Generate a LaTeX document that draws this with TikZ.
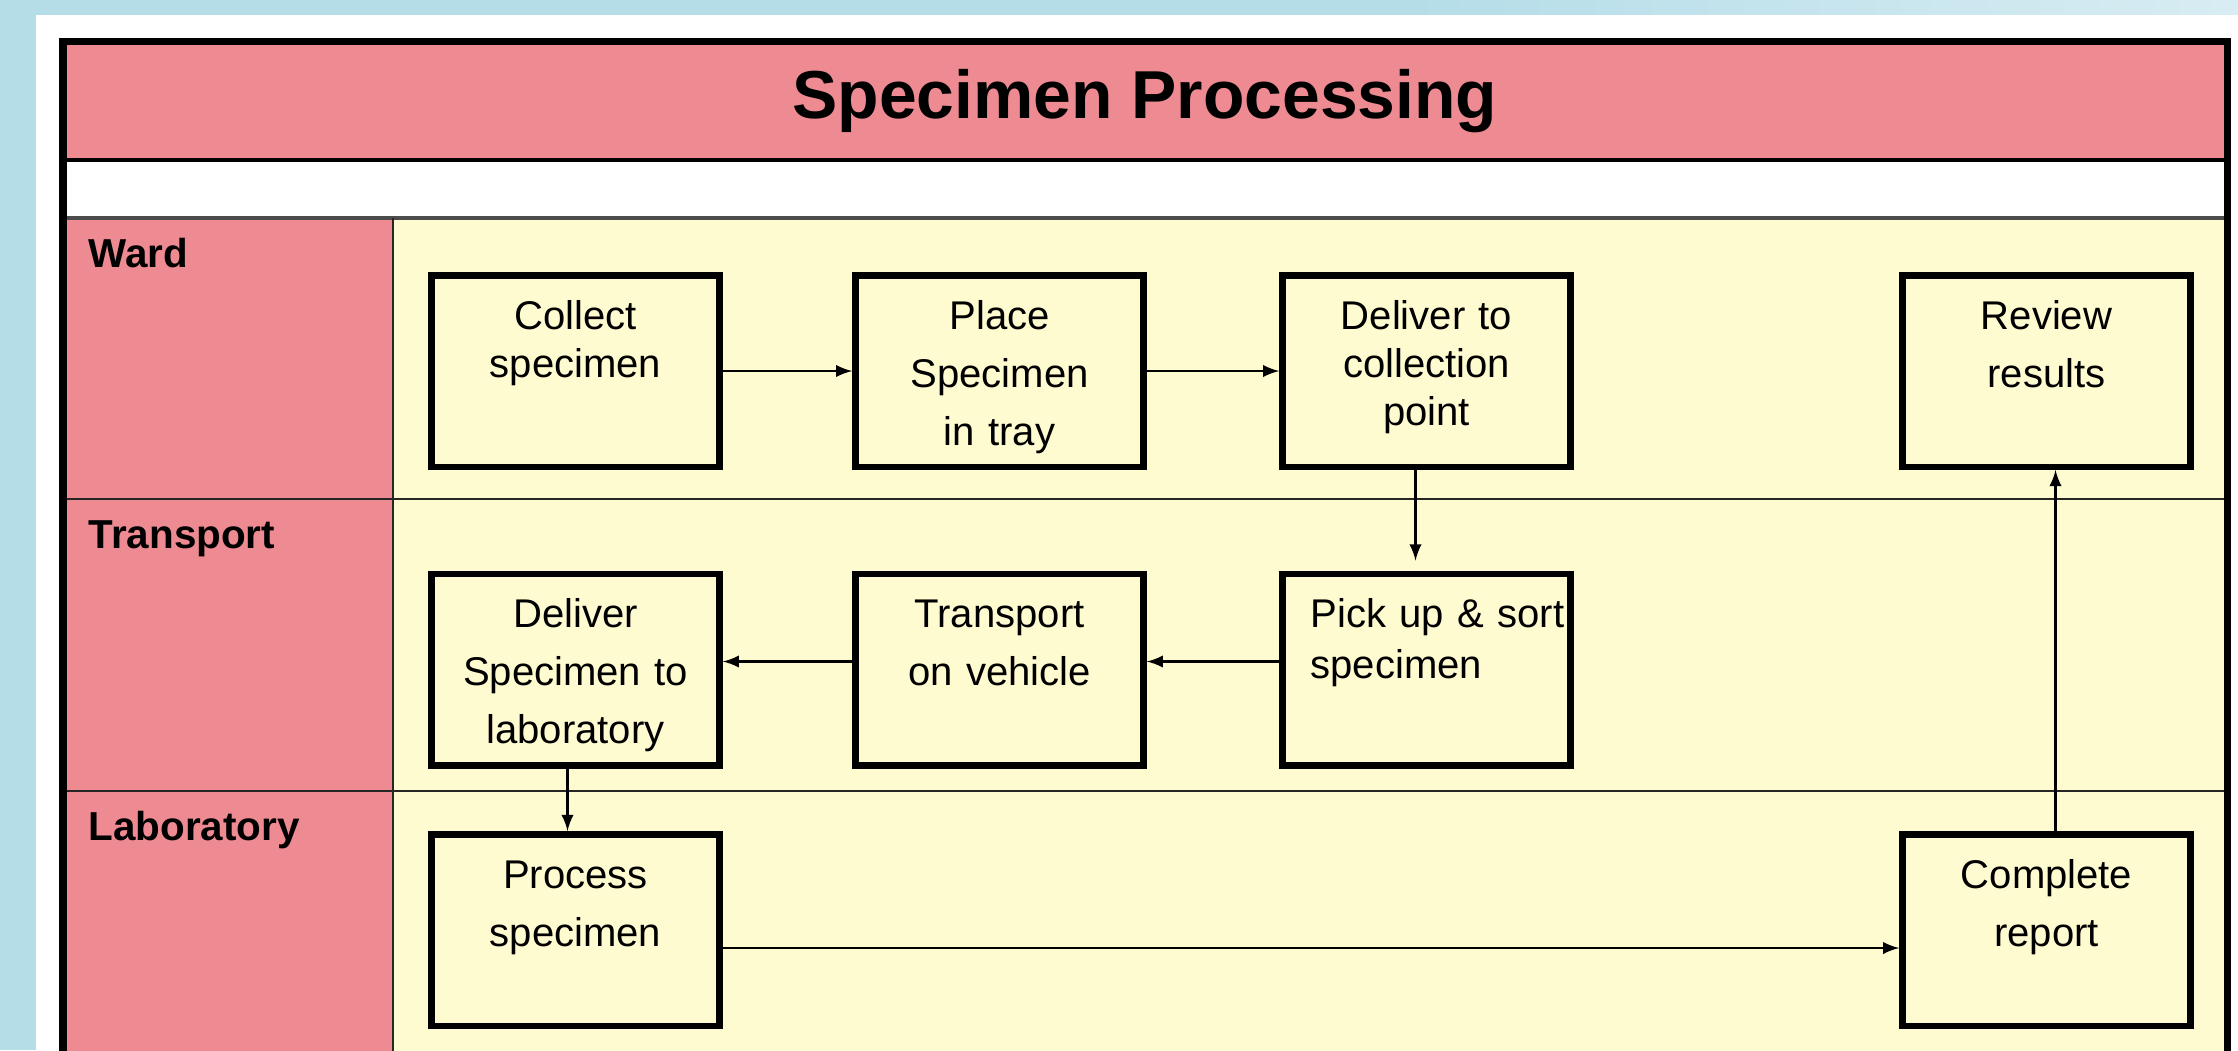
\documentclass[tikz,border=0pt]{standalone}
\usepackage{fontspec}
\setmainfont{Liberation Sans}
\usetikzlibrary{arrows}

\definecolor{slideblue}{RGB}{180,221,232}
\definecolor{slidelight}{RGB}{216,236,243}
\definecolor{headpink}{RGB}{238,139,146}
\definecolor{lanecream}{RGB}{255,251,208}

\begin{document}
\begin{tikzpicture} [
  task/.style={draw, line width=1.85pt, fill=lanecream, text width=2.6cm, align=center,
    inner xsep=0.14cm, inner ysep=0pt, text height=0.54cm, text depth=1.375cm,
    font=\fontsize{11.4}{16.5}\selectfont},
  lane/.style={anchor=base west, inner sep=0pt, font=\fontsize{11.5}{14}\selectfont\bfseries},
  flow/.style={-latex, line width=0.6pt},
  laneline/.style={line width=0.6pt, draw=black!85}
]

\useasboundingbox (0,0) rectangle (22.38,-10.5);
\clip (0,0) rectangle (22.38,-10.5);

\fill [slideblue] (0,0) rectangle (22.38,-10.5);
\shade [left color=slideblue, right color=slidelight] (14,0) rectangle (22.38,-0.15);
\fill [white] (0.36,-0.15) rectangle (22.5,-10.6);

\fill [headpink] (0.63,-0.415) rectangle (22.27,-1.6);
\fill [headpink] (0.63,-2.18) rectangle (3.93,-10.8);
\fill [lanecream] (3.93,-2.18) rectangle (22.27,-10.8);

\draw [line width=0.9pt] (0.63,-1.6) -- (22.27,-1.6);
\draw [line width=0.9pt, draw=black!70] (0.63,-2.18) -- (22.27,-2.18);
\draw [laneline] (0.63,-4.99) -- (22.27,-4.99);
\draw [laneline] (0.63,-7.91) -- (22.27,-7.91);
\draw [laneline] (3.93,-2.18) -- (3.93,-10.8);
\draw [line width=2pt] (0.63,-10.8) -- (0.63,-0.415) -- (22.27,-0.415) -- (22.27,-10.8);

\node [anchor=base, inner sep=0pt, font=\fontsize{19.3}{23}\selectfont\bfseries] (title) at (11.45,-1.18) {Specimen Processing};

\node [lane] (ward) at (0.88,-2.67) {Ward};
\node [lane] (transport) at (0.88,-5.48) {Transport};
\node [lane] (laboratory) at (0.88,-8.40) {Laboratory};

% ward lane
\node [task, font=\fontsize{11.4}{13.7}\selectfont] (collect) at (5.755,-3.71) {Collect\\specimen};
\node [task] (place) at (9.995,-3.71) {Place\\Specimen\\in tray};
\node [task, font=\fontsize{11.4}{13.7}\selectfont] (point) at (14.265,-3.71) {Deliver to\\collection\\point};
\node [task] (review) at (20.465,-3.71) {Review\\results};

% transport lane
\node [task] (dropoff) at (5.755,-6.695) {Deliver\\Specimen to\\laboratory};
\node [task] (carry) at (9.995,-6.695) {Transport\\on vehicle};
\node [task, align=left, text width=2.32cm, inner xsep=0.28cm, font=\fontsize{11.4}{14.5}\selectfont] (pick) at (14.265,-6.695) {\mbox{Pick up \& sort}\\specimen};

% laboratory lane
\node [task] (process) at (5.755,-9.30) {Process\\specimen};
\node [task] (report) at (20.465,-9.30) {Complete\\report};

\draw [flow](collect.east) -- (place.west);
\draw [flow](place.east) -- (point.west);
\draw [flow, shorten >=0.1cm]([xshift=-0.11cm]point.south) -- ([xshift=-0.11cm]pick.north);
\draw [flow]([yshift=0.08cm]pick.west) -- ([yshift=0.08cm]carry.east);
\draw [flow]([yshift=0.08cm]carry.west) -- ([yshift=0.08cm]dropoff.east);
\draw [flow]([xshift=-0.08cm]dropoff.south) -- ([xshift=-0.08cm]process.north);
\draw [flow]([yshift=-0.18cm]process.east) -- ([yshift=-0.18cm]report.west);
\draw [flow]([xshift=0.09cm]report.north) -- ([xshift=0.09cm]review.south);

\end{tikzpicture}
\end{document}
